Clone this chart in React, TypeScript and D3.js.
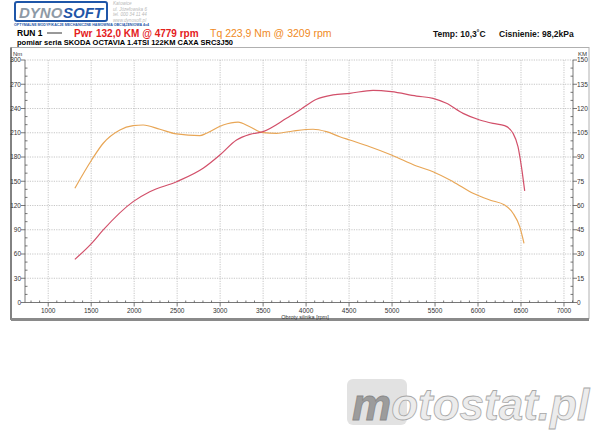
import React from "react";
import * as d3 from "d3";

const powerRpm = [1310,1505,1640,1988,2181,2493,2802,2997,3191,3345,3500,3772,3927,4121,4314,4508,4779,4993,5284,5477,5633,5826,6020,6174,6310,6407,6465,6505,6543];
const powerKM = [26.7,36.6,44.9,62.4,68.5,74.7,83.0,91.2,100.5,104.0,105.7,113.9,119.1,125.7,128.4,129.4,131.2,130.4,127.7,126.3,123.2,117.0,112.9,110.8,109.4,104.7,96.4,84.0,69.0];
const torqueRpm = [1310,1505,1640,1834,1988,2105,2299,2493,2764,2842,3035,3209,3345,3500,3656,3849,4081,4237,4392,4508,4741,4993,5284,5477,5709,5942,6136,6310,6407,6485,6535];
const torqueNm = [141.3,176.3,197.0,213.4,218.7,219.6,214.3,208.5,206.4,209.3,219.6,223.2,217.5,210.1,209.3,212.2,214.3,211.3,205.1,201.0,192.7,182.5,168.9,161.8,149.5,135.1,126.8,120.6,110.4,93.8,73.2];
const xTicks = [1000,1500,2000,2500,3000,3500,4000,4500,5000,5500,6000,6500,7000];
const nmTicks = [0,30,60,90,120,150,180,210,240,270,300];
const kmTicks = [0,15,30,45,60,75,90,105,120,135,150];

const FONT = "'Liberation Sans', Arial, sans-serif";

export default function App() {
  const x = d3.scaleLinear().domain([730, 7105]).range([25, 573]);
  const yL = d3.scaleLinear().domain([0, 300]).range([302.5, 60]);
  const yR = d3.scaleLinear().domain([0, 150]).range([302.5, 60]);

  const pLine = d3.line<number>().x((_, i) => x(powerRpm[i])).y((d) => yR(d)).curve(d3.curveMonotoneX);
  const tLine = d3.line<number>().x((_, i) => x(torqueRpm[i])).y((d) => yL(d)).curve(d3.curveMonotoneX);

  const minorX = d3.range(800, 7101, 100).filter((v) => v % 500 !== 0);
  const minorY = d3.range(0, 301, 10).filter((v) => v % 30 !== 0);

  return (
    <svg width={600} height={436} style={{ position: "absolute", left: 0, top: 0, background: "#fff" }} fontFamily={FONT}>
      <rect x={0} y={0} width={600} height={436} fill="#fff" />
      {/* logo */}
      <rect x={15} y={2} width={92} height={19} rx={2} fill="#fff" stroke="#1f56a8" strokeWidth={2} />
      <text x={19} y={17.5} fontSize={15} fontWeight="bold" fontStyle="italic" fill="#8e9aa6">DYNO</text>
      <text x={63} y={17.5} fontSize={15} fontWeight="bold" fontStyle="italic" fill="#1f56a8">SOFT</text>
      <text x={14} y={25.5} fontSize={3.6} fontWeight="bold" fill="#1f56a8">OPTYMALNE  MODYFIKACJE  MECHANICZNE   HAMOWNIA  OBCIĄŻENIOWA 4x4</text>
      <g fontSize={4.6} fontStyle="italic" fill="#b8b8b8">
        <text x={113} y={5}>Katowice</text>
        <text x={113} y={10.5}>ul. Józefowska 6</text>
        <text x={113} y={16}>tel. 000 34 11 44</text>
        <text x={113} y={21.5}>www.dynosoft.pl</text>
      </g>

      {/* header */}
      <text x={17} y={36} fontSize={8.5} fontWeight="bold" fill="#000">RUN 1</text>
      <line x1={47} y1={33} x2={62} y2={33} stroke="#333" strokeWidth={1} />
      <text x={74} y={37} fontSize={10} fontWeight="bold" fill="#e4201c">Pwr</text>
      <text x={96} y={37} fontSize={10} fontWeight="bold" fill="#e4201c">132,0 KM @ 4779 rpm</text>
      <text x={210} y={37} fontSize={10.5} fill="#f08a24">Tq 223,9 Nm @ 3209 rpm</text>
      <text x={433} y={37} fontSize={8.5} fontWeight="bold" fill="#111">Temp: 10,3˚C</text>
      <text x={499} y={37} fontSize={8.5} fontWeight="bold" fill="#111">Cisnienie: 98,2kPa</text>
      <text x={17} y={45} fontSize={7.5} fontWeight="bold" fill="#000">pomiar seria SKODA OCTAVIA 1.4TSI 122KM CAXA SRC3J50</text>

      {/* frame */}
      <rect x={11} y={47.5} width={578} height={271} fill="#fff" stroke="#b0b0b0" strokeWidth={1} />
      <line x1={11} y1={47.5} x2={11} y2={320} stroke="#666" strokeWidth={1.5} />
      <rect x={11} y={318} width={578} height={3} fill="#8a8a8a" />

      {/* grid */}
      <g stroke="#b8b8b8" strokeWidth={0.8} strokeDasharray="1.2,1.2">
        {xTicks.map((t) => (
          <line key={"gx" + t} x1={x(t)} x2={x(t)} y1={yL(300)} y2={yL(0)} />
        ))}
        {nmTicks.filter((t) => t > 0).map((t) => (
          <line key={"gy" + t} x1={x(730)} x2={x(7105)} y1={yL(t)} y2={yL(t)} />
        ))}
      </g>

      {/* axes */}
      <g stroke="#555" strokeWidth={0.8}>
        <line x1={x(730)} x2={x(730)} y1={yL(300)} y2={yL(0)} />
        <line x1={x(7105)} x2={x(7105)} y1={yL(300)} y2={yL(0)} />
        <line x1={x(730)} x2={x(7105)} y1={yL(0)} y2={yL(0)} />
        {nmTicks.map((t) => (
          <line key={"tl" + t} x1={x(730) - 4} x2={x(730)} y1={yL(t)} y2={yL(t)} />
        ))}
        {minorY.map((t) => (
          <line key={"ml" + t} x1={x(730)} x2={x(730) + 2.5} y1={yL(t)} y2={yL(t)} />
        ))}
        {kmTicks.map((t) => (
          <line key={"tr" + t} x1={x(7105)} x2={x(7105) + 4} y1={yR(t)} y2={yR(t)} />
        ))}
        {minorY.map((t) => (
          <line key={"mr" + t} x1={x(7105) - 2.5} x2={x(7105)} y1={yL(t)} y2={yL(t)} />
        ))}
        {xTicks.map((t) => (
          <line key={"tx" + t} x1={x(t)} x2={x(t)} y1={yL(0)} y2={yL(0) + 4} />
        ))}
        {minorX.map((t) => (
          <line key={"mx" + t} x1={x(t)} x2={x(t)} y1={yL(0) - 2} y2={yL(0)} />
        ))}
      </g>

      <g fontSize={6.5} fill="#333">
        {nmTicks.map((t) => (
          <text key={"ll" + t} x={x(730) - 4} y={yL(t) + 2.3} textAnchor="end">{t}</text>
        ))}
        {kmTicks.map((t) => (
          <text key={"rl" + t} x={x(7105) + 4} y={yR(t) + 2.3}>{t}</text>
        ))}
        {xTicks.map((t) => (
          <text key={"xl" + t} x={x(t)} y={yL(0) + 10.5} textAnchor="middle">{t}</text>
        ))}
        <text x={13} y={56} fontSize={6}>Nm</text>
        <text x={578} y={56} fontSize={6}>KM</text>
        <text x={305} y={318.5} fontSize={5.5} textAnchor="middle">Obroty silnika [rpm]</text>
      </g>

      {/* curves */}
      <path d={tLine(torqueNm) || ""} fill="none" stroke="#e8a656" strokeWidth={1.2} />
      <path d={pLine(powerKM) || ""} fill="none" stroke="#d2506a" strokeWidth={1.2} />

      {/* watermark */}
      <rect x={347} y={379} width={60} height={46} rx={6} fill="#e2e2e2" />
      <text x={352} y={420} fontSize={44} fontWeight="bold" fontStyle="italic" fill="#9c9c9c" stroke="#888" strokeWidth={0.8}>m<tspan fill="#ececec" stroke="#a8a8a8">otostat.pl</tspan></text>
    </svg>
  );
}
